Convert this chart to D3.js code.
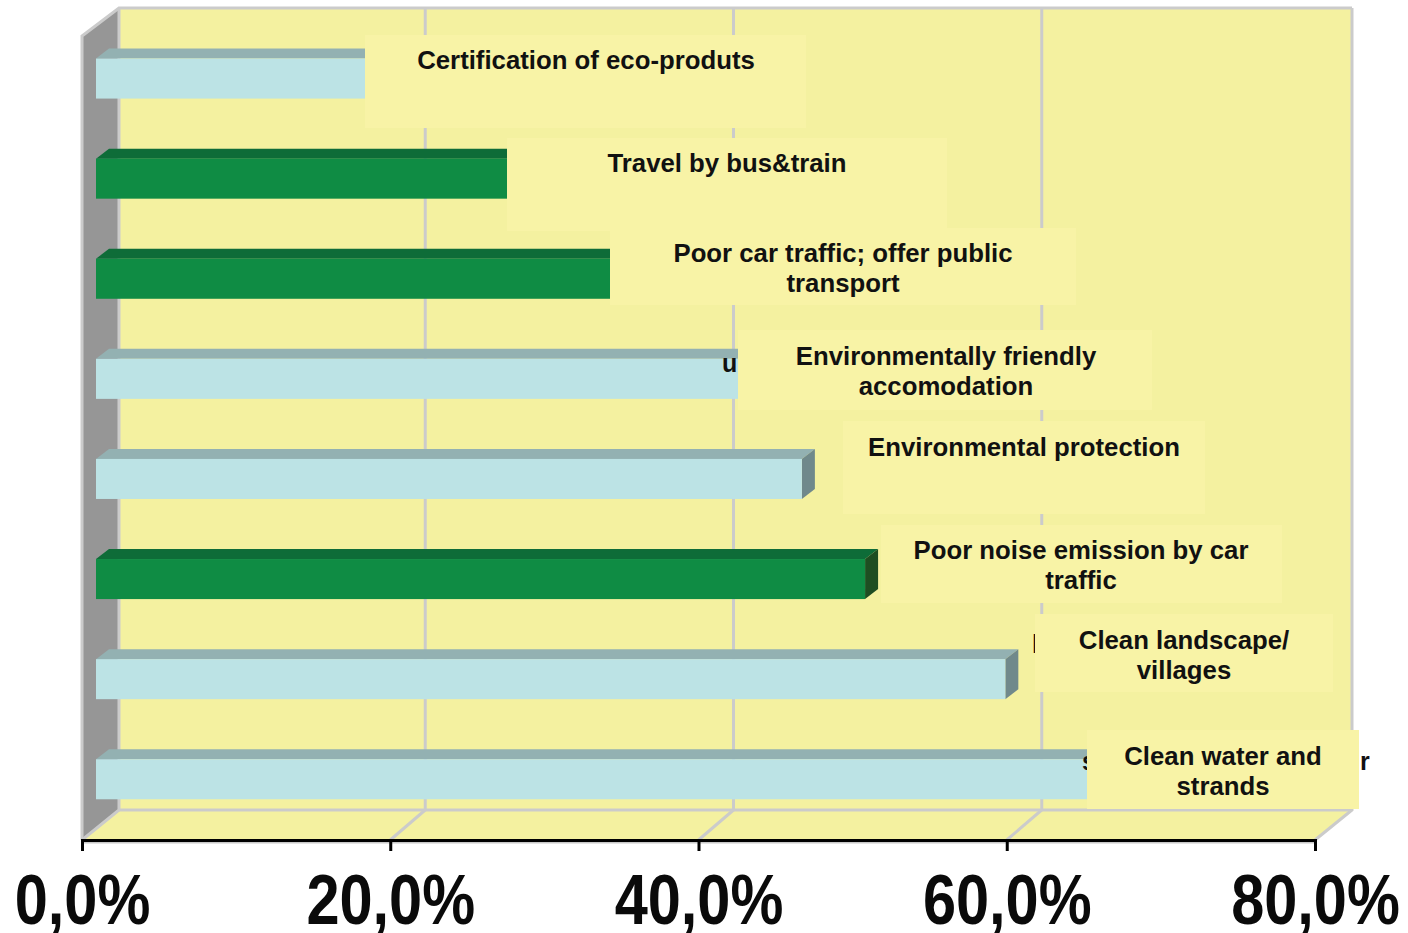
<!DOCTYPE html>
<html>
<head>
<meta charset="utf-8">
<script src="https://cdn.jsdelivr.net/npm/d3@7"></script>
<style>
  html, body { margin: 0; padding: 0; background: #fff; }
  svg { display: block; }
</style>
</head>
<body>
<div id="chart"></div>
<script>
// Data, top bar first
const categories = [
  "Certification of eco-produts",
  "Travel by bus&train",
  "Poor car traffic; offer public transport",
  "Environmentally friendly accomodation",
  "Environmental protection",
  "Poor noise emission by car traffic",
  "Clean landscape/ villages",
  "Clean water and strands"
];
const values = [17.6, 27, 33.5, 41.7, 45.8, 49.9, 59, 65];
const groups = ["eco", "mobility", "mobility", "eco", "eco", "mobility", "eco", "eco"];
const tickValues = [0, 20, 40, 60, 80];

// Label lines and boxes, same order as categories
const labelLines = [
  ["Certification of eco-produts"],
  ["Travel by bus&train"],
  ["Poor car traffic; offer public", "transport"],
  ["Environmentally friendly", "accomodation"],
  ["Environmental protection"],
  ["Poor noise emission by car", "traffic"],
  ["Clean landscape/", "villages"],
  ["Clean water and", "strands"]
];
const labelBoxes = [
  { x0: 365, x1: 806, y0: 35, y1: 128, cx: 586, base: 68.5 },
  { x0: 507, x1: 947, y0: 138, y1: 231, cx: 727, base: 171.5 },
  { x0: 610, x1: 1076, y0: 228, y1: 305, cx: 843, base: 261.5 },
  { x0: 738, x1: 1152, y0: 330, y1: 410, cx: 946, base: 364.5 },
  { x0: 843, x1: 1205, y0: 421, y1: 514, cx: 1024, base: 455.5 },
  { x0: 881, x1: 1282, y0: 525, y1: 603, cx: 1081, base: 558.5 },
  { x0: 1035, x1: 1333, y0: 614, y1: 692, cx: 1184, base: 648.5 },
  { x0: 1087, x1: 1359, y0: 730, y1: 809, cx: 1223, base: 764.5 }
];
// Bits of an older label layer that stick out from under the boxes
const leftovers = [
  { text: "un", x: 722, y: 372 },
  { text: "l", x: 1032, y: 653 },
  { text: "s", x: 1082, y: 770 },
  { text: "r", x: 1360, y: 770 }
];

const WIDTH = 1408;
const HEIGHT = 933;
const plot = { left: 82, right: 1315, top: 36, bottom: 840 };
const depth = { x: 37, y: 30 };
const gridDepth = 35;
const barDepth = { x: 13, y: 10 };
const barInset = 14;
const lineHeight = 30.5;
const labelFont = 25.75;

const colors = {
  eco: { front: "#bce3e5", top: "#93b1b2", side: "#70898b" },
  mobility: { front: "#0f8c44", top: "#0e6c38", side: "#1e4e22" }
};

const svg = d3.select("#chart")
  .append("svg")
  .attr("width", WIDTH)
  .attr("height", HEIGHT);

const x = d3.scaleLinear().domain([0, 80]).range([plot.left, plot.right]);
const y = d3.scaleBand()
  .domain(categories)
  .range([28.5, 829.3])
  .paddingInner(0.6)
  .paddingOuter(0.3);

const poly = pts => pts.map(p => p.join(",")).join(" ");

// Walls and floor
const walls = svg.append("g").attr("id", "walls");
const backL = plot.left + depth.x;
const backR = plot.right + depth.x;
const backT = plot.top - depth.y + 2;
const backB = plot.bottom - depth.y;

walls.append("polygon")
  .attr("points", poly([[backL, backT], [backR, backT], [backR, backB], [backL, backB]]))
  .attr("fill", "#f4f1a0");
walls.append("polygon")
  .attr("points", poly([[plot.left, plot.bottom], [backL, backB], [backR, backB], [plot.right, plot.bottom]]))
  .attr("fill", "#f4f1a0");
walls.append("polygon")
  .attr("points", poly([[plot.left, plot.top], [backL, backT], [backL, backB], [plot.left, plot.bottom]]))
  .attr("fill", "#969696");

// Grid lines run over the back wall and down the floor
const grid = walls.append("g")
  .attr("fill", "none")
  .attr("stroke", "#cbcbcb")
  .attr("stroke-width", 3);

const backX = d => x(d) + (d === 0 || d === 80 ? depth.x : gridDepth);

grid.selectAll("polyline")
  .data(tickValues)
  .join("polyline")
  .attr("points", d => poly([
    [backX(d), backT],
    [backX(d), backB],
    [x(d), plot.bottom]
  ]));
grid.append("polyline")
  .attr("points", poly([[plot.left, plot.bottom], [plot.left, plot.top], [backL, backT], [backR, backT]]));
grid.append("line")
  .attr("x1", backL).attr("x2", backR)
  .attr("y1", backB).attr("y2", backB);

// Bars
const bars = svg.append("g")
  .attr("id", "bars")
  .selectAll("g")
  .data(categories.map((c, i) => ({ c, v: values[i], group: groups[i] })))
  .join("g");

const x0 = x(0) + barInset;

bars.append("polygon")
  .attr("fill", d => colors[d.group].top)
  .attr("points", d => {
    const t = y(d.c), r = x(d.v) + barInset;
    return poly([[x0, t], [x0 + barDepth.x, t - barDepth.y], [r + barDepth.x, t - barDepth.y], [r, t]]);
  });
bars.append("polygon")
  .attr("fill", d => colors[d.group].side)
  .attr("points", d => {
    const t = y(d.c), b = t + y.bandwidth(), r = x(d.v) + barInset;
    return poly([[r, t], [r + barDepth.x, t - barDepth.y], [r + barDepth.x, b - barDepth.y], [r, b]]);
  });
bars.append("rect")
  .attr("fill", d => colors[d.group].front)
  .attr("x", x0)
  .attr("y", d => y(d.c))
  .attr("width", d => x(d.v) - x(0))
  .attr("height", y.bandwidth());

// Leftover text goes under the label boxes
svg.append("g")
  .attr("font-family", "'Liberation Sans', Arial, sans-serif")
  .attr("font-weight", "bold")
  .attr("font-size", 25)
  .attr("fill", "#111")
  .selectAll("text")
  .data(leftovers)
  .join("text")
  .attr("x", d => d.x)
  .attr("y", d => d.y)
  .text(d => d.text);

// Label boxes
const labels = svg.append("g")
  .attr("id", "labels")
  .selectAll("g")
  .data(labelBoxes)
  .join("g");

labels.append("rect")
  .attr("x", d => d.x0)
  .attr("y", d => d.y0)
  .attr("width", d => d.x1 - d.x0)
  .attr("height", d => d.y1 - d.y0)
  .attr("fill", "#f8f3a6");

labels.each(function (box, i) {
  d3.select(this).selectAll("text")
    .data(labelLines[i])
    .join("text")
    .attr("x", box.cx)
    .attr("y", (d, j) => box.base + j * lineHeight)
    .attr("text-anchor", "middle")
    .attr("font-family", "'Liberation Sans', Arial, sans-serif")
    .attr("font-weight", "bold")
    .attr("font-size", labelFont)
    .attr("fill", "#111")
    .text(d => d);
});

// Soft shadow under the axis line
svg.append("line")
  .attr("x1", x(0)).attr("x2", x(80))
  .attr("y1", plot.bottom + 2.5).attr("y2", plot.bottom + 2.5)
  .attr("stroke", "#c8c8c8")
  .attr("stroke-width", 2);

// Axis
const axis = svg.append("g")
  .attr("id", "xaxis")
  .attr("transform", `translate(0, ${plot.bottom})`)
  .call(d3.axisBottom(x)
    .tickValues(tickValues)
    .tickSize(11)
    .tickPadding(23)
    .tickFormat(d => d3.format(".1f")(d).replace(".", ",") + "%"));

axis.select(".domain").attr("stroke", "#000").attr("stroke-width", 3);
axis.selectAll(".tick line").attr("stroke", "#000").attr("stroke-width", 3);
// No narrow bold font here, so squeeze the bold one sideways
axis.selectAll(".tick text")
  .attr("font-family", "'Liberation Sans', sans-serif")
  .attr("font-weight", "bold")
  .attr("font-size", 70)
  .attr("fill", "#0a0a0a")
  .attr("transform", "scale(0.85, 1)");
</script>
</body>
</html>
